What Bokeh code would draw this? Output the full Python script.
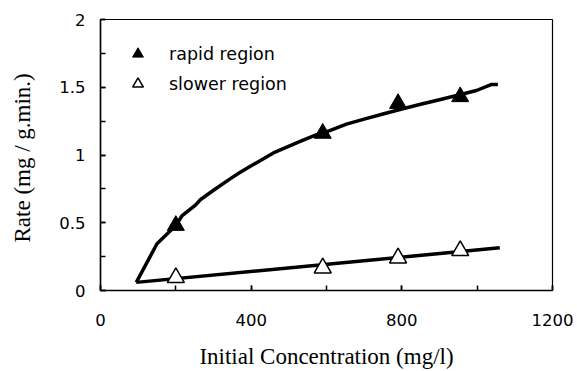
from bokeh.plotting import figure
from bokeh.models import Range1d, SingleIntervalTicker, Legend, LegendItem
from bokeh.embed import file_html
from bokeh.resources import INLINE

# ---- data ----
conc = [200, 590, 790, 955]
rapid = [0.48, 1.16, 1.38, 1.43]
slower = [0.095, 0.166, 0.24, 0.294]

fit_rapid_x = [95, 150, 200, 216, 252, 265, 300, 344, 371, 400, 459, 530, 574,
               600, 653, 700, 750, 795, 850, 900, 956, 998, 1037, 1055]
fit_rapid_y = [0.06, 0.345, 0.48, 0.55, 0.63, 0.67, 0.74, 0.824, 0.873, 0.92,
               1.015, 1.10, 1.15, 1.17, 1.228, 1.265, 1.303, 1.336, 1.374,
               1.408, 1.447, 1.476, 1.52, 1.52]
fit_slow_x = [95, 1060]
fit_slow_y = [0.06, 0.315]

x_label = "Initial Concentration (mg/l)"
y_label = "Rate  (mg / g.min.)"
legend_labels = ["rapid region", "slower region"]

p = figure(width=577, height=371, output_backend="svg", toolbar_location=None,
           x_range=Range1d(0, 1200), y_range=Range1d(0, 2),
           min_border_left=100, min_border_right=25,
           min_border_top=19, min_border_bottom=81)

p.background_fill_color = "white"
p.border_fill_color = "white"
p.outline_line_color = "black"
p.outline_line_width = 1.2
p.xgrid.visible = False
p.ygrid.visible = False

p.line(fit_rapid_x, fit_rapid_y, line_color="black", line_width=3.5, line_join="round")
p.line(fit_slow_x, fit_slow_y, line_color="black", line_width=3.5, line_join="round")

r1 = p.scatter(conc, rapid, marker="triangle", size=17,
               fill_color="black", line_color="black", line_width=1)
r2 = p.scatter(conc, slower, marker="triangle", size=17,
               fill_color="white", line_color="black", line_width=1.5)

xa = p.xaxis[0]
xa.ticker = SingleIntervalTicker(interval=400, num_minor_ticks=2)
ya = p.yaxis[0]
ya.ticker = SingleIntervalTicker(interval=0.5, num_minor_ticks=2)

for ax in (xa, ya):
    ax.axis_line_color = "black"
    ax.axis_line_width = 1.5
    ax.major_tick_in = 5
    ax.major_tick_out = 0
    ax.minor_tick_in = 5
    ax.minor_tick_out = 0
    ax.major_tick_line_color = "black"
    ax.minor_tick_line_color = "black"
    ax.major_tick_line_width = 1.5
    ax.minor_tick_line_width = 1.5
    ax.major_label_text_font = "DejaVu Sans"
    ax.major_label_text_font_size = "16.5px"
    ax.major_label_text_color = "black"
    ax.axis_label_text_font = "Liberation Serif"
    ax.axis_label_text_font_size = "23px"
    ax.axis_label_text_font_style = "normal"
    ax.axis_label_text_color = "black"

xa.axis_label = x_label
ya.axis_label = y_label
xa.major_label_standoff = 23
xa.axis_label_standoff = 15
ya.major_label_standoff = 15
ya.axis_label_standoff = 21

legend = Legend(items=[LegendItem(label=legend_labels[0], renderers=[r1]),
                       LegendItem(label=legend_labels[1], renderers=[r2])],
                location=(24, 193), glyph_width=27, glyph_height=27, spacing=3,
                label_standoff=18, padding=0, margin=0,
                border_line_color=None, background_fill_alpha=0,
                label_text_font="DejaVu Sans", label_text_font_size="17.5px",
                label_text_color="black")
p.add_layout(legend)

open("out.html", "w").write(file_html(p, INLINE))
